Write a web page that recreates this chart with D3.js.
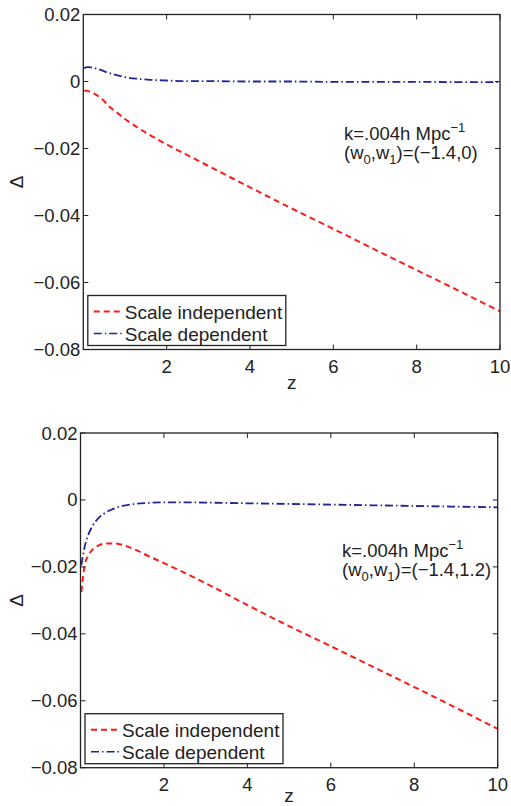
<!DOCTYPE html>
<html>
<head>
<meta charset="utf-8">
<script src="https://cdn.jsdelivr.net/npm/d3@7"></script>
<style>
  body { margin: 0; background: #fff; }
  svg text { font-family: "Liberation Sans", Arial, Helvetica, sans-serif; fill: #222; }
</style>
</head>
<body>
<div id="chart"></div>
<script>
// Datos
const zValues = [0.02, 0.1, 0.2, 0.3, 0.45, 0.6, 0.8, 1.0, 1.3, 1.6, 2, 2.5, 3, 4, 5, 6, 7, 8, 9, 10];

// Panel superior: (w0,w1)=(-1.4,0)
const topIndependent = [-0.0027, -0.0028, -0.0033, -0.0039, -0.0052, -0.0072, -0.0092, -0.0112, -0.0137, -0.0160,
  -0.0188, -0.0220, -0.0252, -0.0316, -0.0379, -0.0440, -0.0502, -0.0563, -0.0624, -0.0686];
const topDependent = [0.0040, 0.0043, 0.0042, 0.0039, 0.0033, 0.0026, 0.0019, 0.0013, 0.0008, 0.0005,
  0.0003, 0.0001, 0.0001, 0.0000, 0.0000, -0.0001, -0.0001, -0.0001, -0.0002, -0.0002];

// Panel inferior: (w0,w1)=(-1.4,1.2)
const bottomIndependent = [-0.0275, -0.0195, -0.0163, -0.0147, -0.0135, -0.0130, -0.0130, -0.0134, -0.0148, -0.0166,
  -0.0189, -0.0218, -0.0249, -0.0314, -0.0377, -0.0437, -0.0498, -0.0559, -0.0621, -0.0684];
const bottomDependent = [-0.0195, -0.0140, -0.0100, -0.0075, -0.0052, -0.0038, -0.0026, -0.0018, -0.0012, -0.0009,
  -0.0007, -0.0007, -0.0008, -0.0010, -0.0012, -0.0014, -0.0016, -0.0018, -0.0020, -0.0022];

const xTicks = [2, 4, 6, 8, 10];
const yTicks = [0.02, 0, -0.02, -0.04, -0.06, -0.08];
const legendLabels = ["Scale independent", "Scale dependent"];
const annotationTop = "(−1.4,0)";
const annotationBottom = "(−1.4,1.2)";

const W = 511, H = 806;
const svg = d3.select("#chart").append("svg")
  .attr("width", W)
  .attr("height", H);

const RED = "#ff1a1a";
const BLUE = "#22229a";
const FONT = 19;
const TICK_FONT = 18.5;

function drawPanel(opts) {
  const { left, right, top, bottom, indep, dep, w1Text } = opts;

  const x = d3.scaleLinear().domain([0, 10]).range([left, right]);
  const y = d3.scaleLinear().domain([-0.08, 0.02]).range([bottom, top]);

  const g = svg.append("g");

  // Líneas de datos
  const line = d3.line()
    .x((d, i) => x(zValues[i]))
    .y(d => y(d))
    .curve(d3.curveMonotoneX);

  g.append("path")
    .datum(indep)
    .attr("fill", "none")
    .attr("stroke", RED)
    .attr("stroke-width", 2)
    .attr("stroke-dasharray", "6,4")
    .attr("d", line);

  g.append("path")
    .datum(dep)
    .attr("fill", "none")
    .attr("stroke", BLUE)
    .attr("stroke-width", 1.8)
    .attr("stroke-dasharray", "8,3,1.5,3")
    .attr("d", line);

  // Caja de ejes
  g.append("rect")
    .attr("x", left).attr("y", top)
    .attr("width", right - left).attr("height", bottom - top)
    .attr("fill", "none")
    .attr("stroke", "#222")
    .attr("stroke-width", 1.3);

  const tickLen = 5;
  // Marcas del eje x (abajo y arriba, hacia dentro)
  xTicks.forEach(t => {
    g.append("line").attr("x1", x(t)).attr("x2", x(t)).attr("y1", bottom).attr("y2", bottom - tickLen)
      .attr("stroke", "#222").attr("stroke-width", 1);
    g.append("line").attr("x1", x(t)).attr("x2", x(t)).attr("y1", top).attr("y2", top + tickLen)
      .attr("stroke", "#222").attr("stroke-width", 1);
    g.append("text")
      .attr("x", x(t))
      .attr("y", bottom + 23)
      .attr("text-anchor", "middle")
      .style("font-size", TICK_FONT + "px")
      .text(t);
  });

  // Marcas del eje y
  yTicks.forEach(t => {
    g.append("line").attr("x1", left).attr("x2", left + tickLen).attr("y1", y(t)).attr("y2", y(t))
      .attr("stroke", "#222").attr("stroke-width", 1);
    g.append("line").attr("x1", right).attr("x2", right - tickLen).attr("y1", y(t)).attr("y2", y(t))
      .attr("stroke", "#222").attr("stroke-width", 1);
    g.append("text")
      .attr("x", left - 3)
      .attr("y", y(t) + 6.5)
      .attr("text-anchor", "end")
      .style("font-size", TICK_FONT + "px")
      .text(t === 0 ? "0" : d3.format(".2f")(t).replace("-", "−"));
  });

  // Etiqueta del eje x
  g.append("text")
    .attr("x", (left + right) / 2)
    .attr("y", Math.min(bottom + 39, H - 4))
    .attr("text-anchor", "middle")
    .style("font-size", FONT + "px")
    .text("z");

  // Etiqueta del eje y (Δ girada)
  g.append("text")
    .attr("transform", `translate(23,${(top + bottom) / 2}) rotate(-90)`)
    .attr("text-anchor", "middle")
    .style("font-size", FONT + "px")
    .text("Δ");

  // Anotación
  const ax = opts.annotX;
  const ay = top + opts.annotDy;
  const t1 = g.append("text").attr("x", ax).attr("y", ay).style("font-size", "18.5px");
  t1.append("tspan").text("k=.004h Mpc");
  t1.append("tspan").attr("dy", -8).style("font-size", "13px").text("−1");

  const t2 = g.append("text").attr("x", ax).attr("y", ay + 19).style("font-size", "18.5px");
  t2.append("tspan").text("(w");
  t2.append("tspan").attr("dy", 5).style("font-size", "13px").text("0");
  t2.append("tspan").attr("dy", -5).text(",w");
  t2.append("tspan").attr("dy", 5).style("font-size", "13px").text("1");
  t2.append("tspan").attr("dy", -5).text(")=" + w1Text);

  // Leyenda
  const lx = left + 4.5, ly = bottom - 54, lw = 198, lh = 50;
  g.append("rect")
    .attr("x", lx).attr("y", ly)
    .attr("width", lw).attr("height", lh)
    .attr("fill", "#fff")
    .attr("stroke", "#222")
    .attr("stroke-width", 1.3);

  const legendStyles = [
    { color: RED, dash: "6,4", width: 2 },
    { color: BLUE, dash: "8,3,1.5,3", width: 1.5 }
  ];
  legendLabels.forEach((lab, i) => {
    const cy = ly + 16 + i * 22;
    g.append("line")
      .attr("x1", lx + 6).attr("x2", lx + 36)
      .attr("y1", cy).attr("y2", cy)
      .attr("stroke", legendStyles[i].color)
      .attr("stroke-width", legendStyles[i].width)
      .attr("stroke-dasharray", legendStyles[i].dash);
    g.append("text")
      .attr("x", lx + 37)
      .attr("y", cy + 7)
      .style("font-size", FONT + "px")
      .text(lab);
  });
}

drawPanel({ left: 83.3, right: 500, top: 14.5, bottom: 349.5,
  indep: topIndependent, dep: topDependent, w1Text: annotationTop, annotDy: 125, annotX: 344 });

drawPanel({ left: 80.5, right: 497.7, top: 433, bottom: 767.7,
  indep: bottomIndependent, dep: bottomDependent, w1Text: annotationBottom, annotDy: 124, annotX: 342 });
</script>
</body>
</html>
